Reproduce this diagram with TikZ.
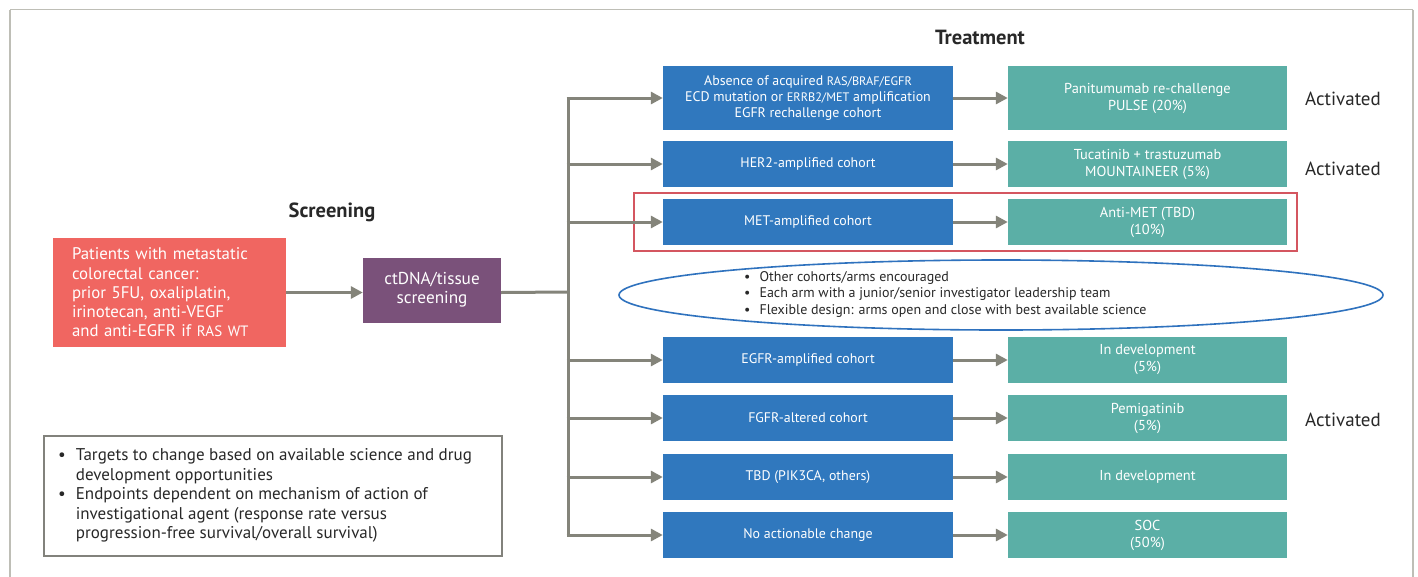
\documentclass[tikz,border=0pt]{standalone}
\usepackage{fontspec}
\setmainfont{PT Sans}
\usetikzlibrary{arrows.meta}
\definecolor{arrgray}{RGB}{132,132,122}
\definecolor{cred}{RGB}{240,102,97}
\definecolor{cpurple}{RGB}{122,81,122}
\definecolor{cblue}{RGB}{48,120,190}
\definecolor{cteal}{RGB}{91,175,166}
\definecolor{cframe}{RGB}{190,190,182}
\definecolor{cmetred}{RGB}{212,86,96}
\definecolor{cellipse}{RGB}{47,114,190}
\definecolor{cboxgray}{RGB}{130,130,124}
\definecolor{ctext}{RGB}{40,40,40}
\newcommand{\smc}[1]{{\fontsize{12.3}{16}\selectfont #1}}
\newcommand{\smcr}[1]{{\fontsize{15}{19.3}\selectfont #1}}
\tikzset{
  arr/.style={draw=arrgray, line width=3pt, -{Triangle[length=12pt,width=12pt]}},
  plainline/.style={draw=arrgray, line width=3pt},
  bluebox/.style={fill=cblue, text=white, minimum width=290pt, minimum height=46pt,
    align=center, inner sep=0pt, font=\fontsize{13.9}{16}\selectfont},
  tealbox/.style={fill=cteal, text=white, minimum width=279pt, minimum height=46pt,
    align=center, inner sep=0pt, font=\fontsize{14.4}{17}\selectfont},
  actlabel/.style={text=ctext, font=\fontsize{19}{22}\selectfont, inner sep=0pt},
  heading/.style={text=ctext, font=\fontsize{20.5}{24}\selectfont\bfseries, inner sep=0pt}
}
\begin{document}
\begin{tikzpicture}[x=1pt,y=-1pt]
\useasboundingbox (0,0) rectangle (1418,576);
\fill[white] (0,0) rectangle (1418,576);
% outer frame
\draw[cframe, line width=1.5pt] (10,9.5) -- (1413,9.5);
\draw[cframe, line width=1.5pt] (10,9.5) -- (10,600);
\draw[cframe, line width=1.5pt] (1413,9.5) -- (1413,600);

% headings
\node[heading] (hscr) at (332,212) {Screening};
\node[heading] (htreat) at (980,37) {Treatment};

% left boxes
\node[fill=cred, text=white, minimum width=233pt, minimum height=109pt, text width=195pt,
      inner xsep=19pt, inner ysep=0pt, align=left, font=\fontsize{16.8}{19.3}\selectfont]
  (pat) at (169.5,292.5) {Patients with metastatic\\colorectal cancer:\\prior 5FU, oxaliplatin,\\irinotecan, anti-VEGF\\and anti-EGFR if \smcr{RAS WT}};
\node[fill=cpurple, text=white, minimum width=138pt, minimum height=65pt, align=center,
      inner sep=0pt, font=\fontsize{17.2}{19.3}\selectfont]
  (scr) at (432,290) {ctDNA/tissue\\screening};

% trunk coordinates
\coordinate (ttop) at (568,98);
\coordinate (tbot) at (568,535);
\coordinate (tmid) at (568,292);

% blue cohort boxes
\node[bluebox, minimum height=64pt] (b1) at (808,98) {Absence of acquired \smc{RAS/BRAF/EGFR}\\ECD mutation or \smc{ERRB2/MET} amplification\\EGFR rechallenge cohort};
\node[bluebox] (b2) at (808,164) {HER2-amplified cohort};
\node[bluebox] (b3) at (808,222) {MET-amplified cohort};
\node[bluebox] (b4) at (808,360) {EGFR-amplified cohort};
\node[bluebox] (b5) at (808,418) {FGFR-altered cohort};
\node[bluebox] (b6) at (808,477) {TBD (PIK3CA, others)};
\node[bluebox] (b7) at (808,535) {No actionable change};

% teal treatment boxes
\node[tealbox, minimum height=64pt] (t1) at (1147.5,98) {Panitumumab re-challenge\\PULSE (20\%)};
\node[tealbox] (t2) at (1147.5,164) {Tucatinib + trastuzumab\\MOUNTAINEER (5\%)};
\node[tealbox] (t3) at (1147.5,222) {Anti-MET (TBD)\\(10\%)};
\node[tealbox] (t4) at (1147.5,360) {In development\\(5\%)};
\node[tealbox] (t5) at (1147.5,418) {Pemigatinib\\(5\%)};
\node[tealbox] (t6) at (1147.5,477) {In development};
\node[tealbox] (t7) at (1147.5,535) {SOC\\(50\%)};

% activated labels
\node[actlabel] (a1) at (1343,99) {Activated};
\node[actlabel] (a2) at (1343,169) {Activated};
\node[actlabel] (a5) at (1343,420) {Activated};

% MET highlight frame
\node[draw=cmetred, line width=2pt, minimum width=663pt, minimum height=58pt, inner sep=0pt]
  (metframe) at (965.5,222) {};

% ellipse
\draw[cellipse, line width=1.6pt] (1001,295) ellipse [x radius=382, y radius=35];
\node[anchor=west, inner sep=0pt, text=ctext, font=\fontsize{14}{16.5}\selectfont]
  (elltext) at (744,294.5) {%
  \begin{tabular}{@{}l@{\hspace{9pt}}l@{}}
  \textbullet & Other cohorts/arms encouraged\\
  \textbullet & Each arm with a junior/senior investigator leadership team\\
  \textbullet & Flexible design: arms open and close with best available science
  \end{tabular}};

% notes box
\node[draw=cboxgray, line width=1.5pt, minimum width=458pt, minimum height=120pt,
      inner sep=0pt, anchor=north west] (notes) at (43,435) {};
\node[anchor=west, inner sep=0pt, text=ctext, font=\fontsize{17}{19.5}\selectfont]
  (notestext) at (58,496) {%
  \begin{tabular}{@{}l@{\hspace{10pt}}l@{}}
  \textbullet & Targets to change based on available science and drug\\
   & development opportunities\\
  \textbullet & Endpoints dependent on mechanism of action of\\
   & investigational agent (response rate versus\\
   & progression-free survival/overall survival)
  \end{tabular}};

% connectors
\draw[arr] (pat.east) -- (pat.east -| scr.west);
\draw[plainline] (pat.east -| scr.east) -- (tmid);
\draw[plainline] ([yshift=-1.5pt]ttop) -- ([yshift=1.5pt]tbot);
\foreach \i in {1,...,7} {
  \draw[arr] ([xshift=-1.5pt]b\i.west -| ttop) -- (b\i.west);
  \draw[arr] (b\i.east) -- (t\i.west);
}
\end{tikzpicture}
\end{document}
